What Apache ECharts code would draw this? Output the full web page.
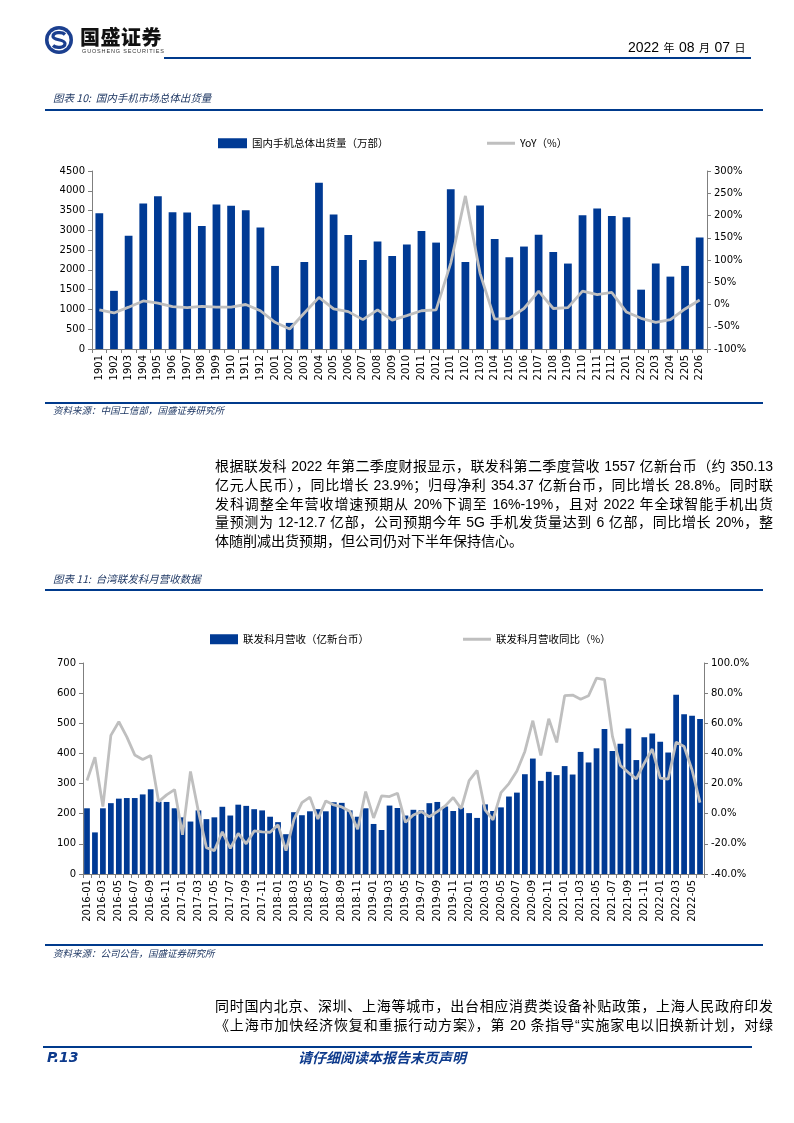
<!DOCTYPE html>
<html>
<head>
<meta charset="utf-8">
<script src="https://cdn.jsdelivr.net/npm/echarts@6/dist/echarts.min.js"></script>
<style>
html,body{margin:0;padding:0;background:#fff;}
#page{position:relative;width:794px;height:1123px;overflow:hidden;background:#fff;}
#chart{position:absolute;left:0;top:0;width:794px;height:1123px;}
.t{position:absolute;white-space:nowrap;font-family:"Liberation Sans","Noto Sans CJK SC",sans-serif;color:#000;z-index:2;}
.hl{position:absolute;background:#003a8c;z-index:2;}
.cap{font-family:"Noto Sans CJK SC",sans-serif;font-style:italic;color:#1f3864;font-size:10.5px;line-height:14px;}
.src{font-family:"Noto Sans CJK SC",sans-serif;font-style:italic;color:#1f3864;font-size:9.5px;line-height:12px;}
.p{font-size:14px;line-height:18px;width:558px;text-align:justify;text-align-last:justify;}
.pl{font-size:14px;line-height:18px;}
</style>
</head>
<body>
<div id="page">
<div id="chart"></div>

<svg class="t" style="left:44px;top:25px" width="30" height="30" viewBox="0 0 30 30">
  <circle cx="15" cy="15" r="14" fill="#1b3f8f"/>
  <circle cx="15" cy="15" r="10.5" fill="#fff"/>
  <path d="M21 9.5 C18 6.5 9 7 9 11.5 C9 15.5 21 14 21 18.5 C21 23 12 23.5 9 20.5" stroke="#1b3f8f" stroke-width="3.2" fill="none"/>
</svg>
<div class="t" style="left:80px;top:25px;font-family:'Noto Sans CJK SC';font-weight:900;font-size:20px;line-height:24px;color:#111;letter-spacing:0.5px">国盛证券</div>
<div class="t" style="left:82px;top:48px;font-family:'Liberation Sans';font-size:5.5px;line-height:6px;letter-spacing:0.85px;color:#333">GUOSHENG SECURITIES</div>
<div class="hl" style="left:164px;top:56.5px;width:587px;height:2px"></div>
<div class="t" style="left:628px;top:38px;line-height:18px;font-family:'Liberation Sans','Noto Sans CJK SC'"><span style="font-size:14px">2022</span> <span style="font-size:11px">年</span> <span style="font-size:14px">08</span> <span style="font-size:11px">月</span> <span style="font-size:14px">07</span> <span style="font-size:11px">日</span></div>

<div class="t cap" style="left:53px;top:91px">图表 10:&nbsp; 国内手机市场总体出货量</div>
<div class="hl" style="left:45px;top:108.5px;width:718px;height:2px"></div>
<div class="hl" style="left:45px;top:401.5px;width:718px;height:2px"></div>
<div class="t src" style="left:53px;top:404px">资料来源：中国工信部，国盛证券研究所</div>

<div class="t p" style="left:215px;top:457px">根据联发科 2022 年第二季度财报显示，联发科第二季度营收 1557 亿新台币（约 350.13</div>
<div class="t p" style="left:215px;top:475.5px">亿元人民币），同比增长 23.9%；归母净利 354.37 亿新台币，同比增长 28.8%。同时联</div>
<div class="t p" style="left:215px;top:494.5px">发科调整全年营收增速预期从 20%下调至 16%-19%，且对 2022 年全球智能手机出货</div>
<div class="t p" style="left:215px;top:513px">量预测为 12-12.7 亿部，公司预期今年 5G 手机发货量达到 6 亿部，同比增长 20%，整</div>
<div class="t pl" style="left:215px;top:532px">体随削减出货预期，但公司仍对下半年保持信心。</div>

<div class="t cap" style="left:53px;top:572px">图表 11:&nbsp; 台湾联发科月营收数据</div>
<div class="hl" style="left:45px;top:589px;width:718px;height:2px"></div>
<div class="hl" style="left:45px;top:944px;width:718px;height:2px"></div>
<div class="t src" style="left:53px;top:947px">资料来源：公司公告，国盛证券研究所</div>

<div class="t p" style="left:215px;top:997px">同时国内北京、深圳、上海等城市，出台相应消费类设备补贴政策，上海人民政府印发</div>
<div class="t p" style="left:215px;top:1016px">《上海市加快经济恢复和重振行动方案》，第 20 条指导“实施家电以旧换新计划，对绿</div>

<div class="hl" style="left:43px;top:1046px;width:709px;height:2px"></div>
<div class="t" style="left:47px;top:1048px;font-family:'DejaVu Sans';font-weight:bold;font-style:italic;font-size:14px;line-height:18px;color:#0d3a8c">P.13</div>
<div class="t" style="left:298px;top:1048px;font-family:'Noto Sans CJK SC';font-weight:bold;font-style:italic;font-size:14px;line-height:18px;color:#0d3a8c">请仔细阅读本报告末页声明</div>
</div>

<script>
// ---------- Chart 1: 国内手机市场总体出货量 ----------
const months1 = ['1901','1902','1903','1904','1905','1906','1907','1908','1909','1910','1911','1912',
  '2001','2002','2003','2004','2005','2006','2007','2008','2009','2010','2011','2012',
  '2101','2102','2103','2104','2105','2106','2107','2108','2109','2110','2111','2112',
  '2201','2202','2203','2204','2205','2206'];
const shipments = [3430,1470,2860,3680,3860,3460,3450,3110,3650,3620,3510,3070,
  2100,660,2200,4200,3400,2880,2250,2720,2350,2640,2980,2690,
  4040,2200,3630,2780,2320,2590,2890,2450,2160,3380,3550,3360,
  3330,1500,2160,1830,2100,2820];
const shipYoY = [-12,-19,-6,8,3,-5,-7,-4,-6,-6,0,-14,
  -40,-55,-19,16,-10,-16,-34,-12,-35,-25,-14,-12,
  93,244,70,-33,-31,-9,30,-9,-7,30,22,27,
  -17,-31,-40,-34,-10,10];
const name1Bar = '国内手机总体出货量（万部）';
const name1Line = 'YoY（%）';

// ---------- Chart 2: 台湾联发科月营收数据 ----------
const months2 = [];
['2016','2017','2018','2019','2020','2021','2022'].forEach(y => {
  for (let m = 1; m <= 12; m++) {
    if (y === '2022' && m > 6) break;
    months2.push(y + '-' + (m < 10 ? '0' + m : '' + m));
  }
});
const revenue = [218,138,218,235,250,252,252,264,281,240,239,218,
  188,174,211,182,188,223,194,230,226,215,211,190,
  172,132,205,195,208,215,208,238,236,211,190,218,
  166,146,227,219,194,213,211,235,239,224,209,220,
  202,186,231,209,221,257,270,331,383,309,339,328,
  358,330,405,370,417,481,408,432,483,378,454,466,
  439,403,595,530,525,514];
const revYoY = [22,37.5,4.7,52,61,51,39,36,38.6,8,12.5,16,
  -14,28,1.4,-22.5,-24.5,-12,-23,-13,-20,-11.4,-12,-12.3,
  -7.4,-24.5,-3.7,7.4,11,-3.5,8.5,5.8,4.5,1.6,-10.3,14.7,
  -2.8,11.8,11.4,13.6,-5.7,-0.8,1.4,-2,1.4,5.2,10.7,3.4,
  22,28.7,2.5,-4,14,20,28.4,41.3,61.7,38.6,63,47.3,
  78.3,78.7,76,78.3,90,89,51.3,32,27.3,23.1,33.5,42.9,
  23.6,22.9,47.5,44.6,29,7.4];
const name2Bar = '联发科月营收（亿新台币）';
const name2Line = '联发科月营收同比（%）';

const BLUE = '#003a94';
const GRAY = '#bfbfbf';
const AX = '#7f7f7f';
const FONT = 'DejaVu Sans';
const lblStyle = {color:'#000', fontSize:10, fontFamily:FONT};
const legendText = {color:'#000', fontSize:10.5, fontFamily:'Noto Sans CJK SC'};

function yAx(grid, pos, min, max, interval, fmt) {
  return {
    type:'value', gridIndex:grid, position:pos, min:min, max:max, interval:interval,
    axisLine:{show:true, lineStyle:{color:AX, width:1}},
    axisTick:{show:true, length:4, lineStyle:{color:AX}},
    splitLine:{show:false},
    axisLabel:Object.assign({margin:7, formatter:fmt}, lblStyle)
  };
}
function xAx(grid, data, interval) {
  return {
    type:'category', gridIndex:grid, data:data,
    axisLine:{show:true, lineStyle:{color:AX, width:1}},
    axisTick:{show:true, length:4, interval:0, lineStyle:{color:AX}},
    axisLabel:Object.assign({rotate:90, margin:6, interval:interval}, lblStyle)
  };
}
const lineLegend = (name, left, top) => ({
  data:[{name:name, icon:'rect'}], left:left, top:top, itemWidth:28, itemHeight:3,
  itemStyle:{color:GRAY, borderWidth:0}, lineStyle:{width:0},
  textStyle:legendText, itemGap:5
});

const chart = echarts.init(document.getElementById('chart'), null, {renderer:'canvas'});
chart.setOption({
  animation:false,
  backgroundColor:'transparent',
  grid:[
    {left:92, top:171, width:615, height:178},
    {left:83, top:663, width:621, height:211}
  ],
  legend:[
    {data:[{name:name1Bar, icon:'rect'}], left:213, top:133, itemWidth:29, itemHeight:10, textStyle:legendText},
    lineLegend(name1Line, 482, 133),
    {data:[{name:name2Bar, icon:'rect'}], left:205, top:629, itemWidth:28, itemHeight:10, textStyle:legendText},
    lineLegend(name2Line, 458, 629)
  ],
  xAxis:[ xAx(0, months1, 0), xAx(1, months2, 1) ],
  yAxis:[
    yAx(0,'left',0,4500,500, v => String(v)),
    yAx(0,'right',-100,300,50, v => v + '%'),
    yAx(1,'left',0,700,100, v => String(v)),
    yAx(1,'right',-40,100,20, v => v.toFixed(1) + '%')
  ],
  series:[
    {name:name1Bar, type:'bar', xAxisIndex:0, yAxisIndex:0, data:shipments, barWidth:'53%', itemStyle:{color:BLUE}},
    {name:name1Line, type:'line', xAxisIndex:0, yAxisIndex:1, data:shipYoY, symbol:'none', lineStyle:{color:GRAY, width:2.8}, itemStyle:{color:GRAY}},
    {name:name2Bar, type:'bar', xAxisIndex:1, yAxisIndex:2, data:revenue, barWidth:'72%', itemStyle:{color:BLUE}},
    {name:name2Line, type:'line', xAxisIndex:1, yAxisIndex:3, data:revYoY, symbol:'none', lineStyle:{color:GRAY, width:2.8}, itemStyle:{color:GRAY}}
  ]
});
</script>
</body>
</html>
